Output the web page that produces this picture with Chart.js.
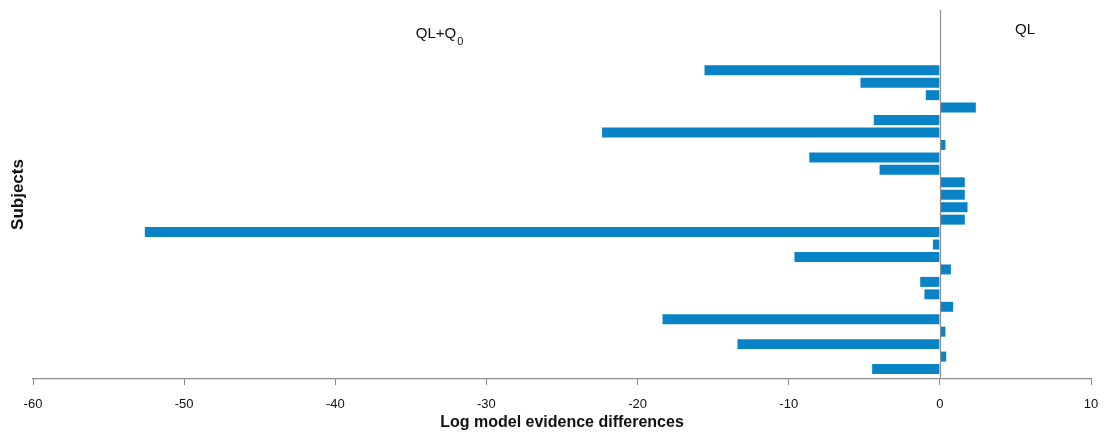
<!DOCTYPE html>
<html>
<head>
<meta charset="utf-8">
<script src="https://cdn.jsdelivr.net/npm/chart.js@4.4.1/dist/chart.umd.min.js"></script>
<style>
html,body{margin:0;padding:0;background:#fff;}
#wrap{width:1114px;height:432px;position:relative;}
</style>
</head>
<body>
<div id="wrap"><canvas id="c" width="1114" height="432"></canvas></div>
<script>
const subjects = [1,2,3,4,5,6,7,8,9,10,11,12,13,14,15,16,17,18,19,20,21,22,23,24,25];
const differences = [-15.57,-5.25,-0.93,2.38,-4.37,-22.35,0.37,-8.64,-3.99,1.65,1.65,1.83,1.65,-52.6,-0.46,-9.62,0.73,-1.30,-1.02,0.88,-18.35,0.37,-13.39,0.42,-4.48];
const xTicks = [-60,-50,-40,-30,-20,-10,0,10];
const regionLabels = [
  {main:'QL+Q', sub:'0', at:-33.1, dy:24},
  {main:'QL', sub:'', at:5.64, dy:20}
];

const FONT = '"Liberation Sans", Arial, Helvetica, sans-serif';

const textPlugin = {
  id:'regionText',
  afterDatasetsDraw(chart){
    const ctx = chart.ctx, xs = chart.scales.x, area = chart.chartArea;
    const x0 = xs.getPixelForValue(0);
    ctx.save();
    ctx.strokeStyle = '#8c8c8c';
    ctx.lineWidth = 1.2;
    ctx.beginPath();
    ctx.moveTo(Math.round(x0)+0.5, area.top);
    ctx.lineTo(Math.round(x0)+0.5, area.bottom);
    ctx.stroke();
    ctx.fillStyle = '#111';
    ctx.textBaseline = 'middle';
    regionLabels.forEach(r=>{
      ctx.font = '15px ' + FONT;
      const wMain = ctx.measureText(r.main).width;
      ctx.font = '11px ' + FONT;
      const wSub = r.sub ? ctx.measureText(r.sub).width + 1 : 0;
      const cx = xs.getPixelForValue(r.at);
      const left = cx - (wMain + wSub)/2;
      const y = area.top + r.dy;
      ctx.font = '15px ' + FONT;
      ctx.textAlign = 'left';
      ctx.fillText(r.main, left, y);
      if (r.sub){
        ctx.font = '11px ' + FONT;
        ctx.fillText(r.sub, left + wMain + 1, y + 8);
      }
    });
    ctx.restore();
  }
};

new Chart(document.getElementById('c'), {
  type:'bar',
  data:{
    datasets:[{
      data: subjects.map((s,i)=>({x:differences[i], y:s})),
      backgroundColor:'#0a83c6',
      borderWidth:0,
      barPercentage:0.8,
      categoryPercentage:1.0
    }]
  },
  options:{
    indexAxis:'y',
    responsive:false,
    animation:false,
    devicePixelRatio:1,
    layout:{padding:{left:0,right:23,top:10,bottom:0}},
    plugins:{legend:{display:false}, tooltip:{enabled:false}},
    scales:{
      x:{
        type:'linear',
        min:-60, max:10,
        afterBuildTicks(scale){ scale.ticks = xTicks.map(v=>({value:v})); },
        afterFit(scale){ scale.height = 53; },
        grid:{
          drawOnChartArea:false,
          drawTicks:true,
          tickLength:6,
          tickColor:'#8c8c8c',
          color:'#8c8c8c'
        },
        border:{display:true, color:'#8c8c8c', width:1.2},
        ticks:{color:'#111', font:{family:FONT, size:13}, padding:12, maxRotation:0},
        title:{display:true, text:'Log model evidence differences', color:'#111',
               font:{family:FONT, size:16, weight:'bold'}, padding:{top:2,bottom:0}}
      },
      y:{
        type:'linear',
        reverse:true,
        offset:false,
        grid:{display:false, offset:false},
        min:-3.84, max:25.8,
        afterFit(scale){ scale.width = 33; },
        border:{display:false},
        ticks:{display:false},
        title:{display:true, text:'Subjects', color:'#111',
               font:{family:FONT, size:17, weight:'bold'}, padding:{top:8,bottom:0}}
      }
    }
  },
  plugins:[textPlugin]
});
</script>
</body>
</html>
